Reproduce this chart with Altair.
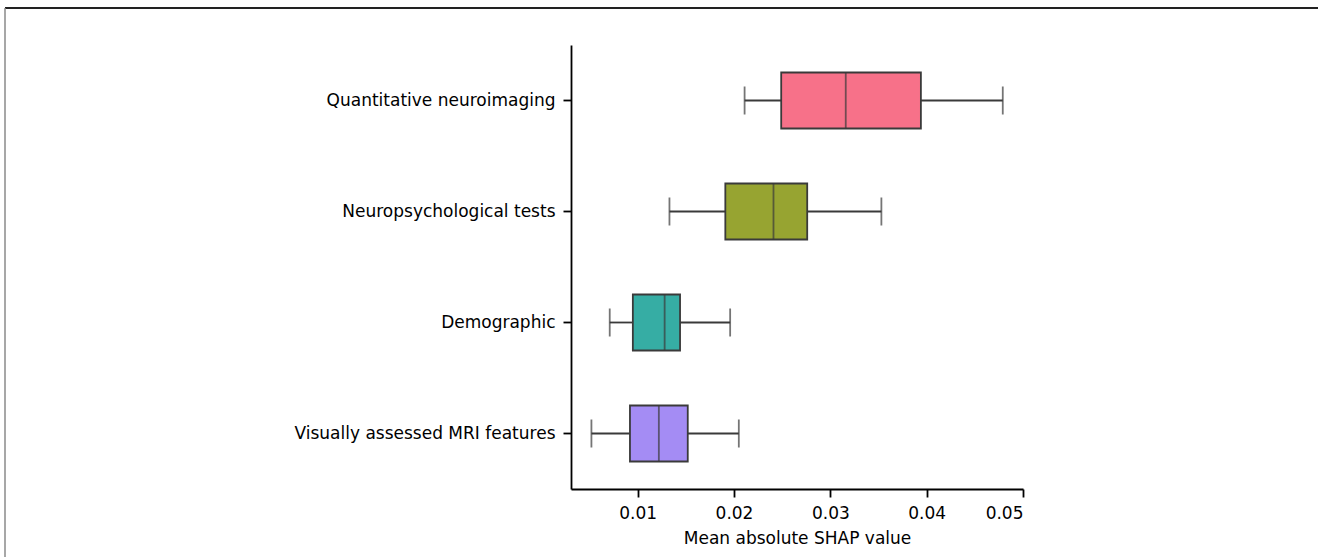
import altair as alt
import pandas as pd

categories = ["Quantitative neuroimaging", "Neuropsychological tests",
              "Demographic", "Visually assessed MRI features"]
lower = [0.0211, 0.0133, 0.0071, 0.0052]
q1 = [0.0249, 0.0191, 0.0095, 0.0092]
median = [0.0316, 0.0241, 0.0128, 0.0122]
q3 = [0.0394, 0.0276, 0.0144, 0.0152]
upper = [0.0479, 0.0353, 0.0196, 0.0205]
colors = ["#f77189", "#97a431", "#36ada4", "#a48cf4"]
x_ticks = [0.01, 0.02, 0.03, 0.04, 0.05]

df = pd.DataFrame({"cat": categories, "lower": lower, "q1": q1,
                   "median": median, "q3": q3, "upper": upper})

EDGE = "#3a3a3a"
FONT = "DejaVu Sans"
LW = 1.8

xscale = alt.Scale(domain=[0.00308, 0.05], nice=False, zero=False)
yscale = alt.Scale(paddingInner=0, paddingOuter=0)

x_axis = alt.Axis(values=x_ticks, format=".2f", title="Mean absolute SHAP value")
y_axis = alt.Axis(title=None)


def X(field):
    return alt.X(field, type="quantitative", scale=xscale, axis=x_axis)


Y = alt.Y("cat:N", sort=categories, scale=yscale, axis=y_axis)

base = alt.Chart(df)

whisk_lo = base.mark_rule(color=EDGE, strokeWidth=LW).encode(
    x=X("lower"), x2="q1:Q", y=Y)
whisk_hi = base.mark_rule(color=EDGE, strokeWidth=LW).encode(
    x=X("q3"), x2="upper:Q", y=Y)
box = base.mark_bar(size=56, stroke=EDGE, strokeWidth=LW).encode(
    x=X("q1"), x2="q3:Q", y=Y,
    color=alt.Color("cat:N", scale=alt.Scale(domain=categories, range=colors),
                    legend=None))
med = base.mark_tick(orient="vertical", size=56, thickness=LW, color=EDGE).encode(
    x=X("median"), y=Y)
cap_lo = base.mark_tick(orient="vertical", size=28, thickness=LW, color=EDGE).encode(
    x=X("lower"), y=Y)
cap_hi = base.mark_tick(orient="vertical", size=28, thickness=LW, color=EDGE).encode(
    x=X("upper"), y=Y)

frame_df = pd.DataFrame({"k": [0]})
frame_top = alt.Chart(frame_df).mark_rule(color="#222222", strokeWidth=2).encode(
    x=alt.value(-566), x2=alt.value(760), y=alt.value(-37))
frame_left = alt.Chart(frame_df).mark_rule(color="#8a8a8a", strokeWidth=1.5).encode(
    x=alt.value(-566), y=alt.value(-37), y2=alt.value(520))

chart = alt.layer(whisk_lo, whisk_hi, box, med, cap_lo, cap_hi,
                  frame_top, frame_left).properties(
    width=452, height=444,
    autosize=alt.AutoSizeParams(type="none"),
    padding={"left": 571, "top": 45, "right": 295, "bottom": 68},
    background="white",
).configure_view(stroke=None).configure_axis(
    grid=False, domainColor="black", domainWidth=1.8,
    tickColor="black", tickWidth=1.8, tickSize=8, labelPadding=8,
    labelFont=FONT, labelFontSize=17, labelColor="black", labelLimit=400,
    titleFont=FONT, titleFontSize=17, titleColor="black",
    titleFontWeight="normal", titlePadding=9,
)

chart.save("out.html", embed_options={"renderer": "svg", "actions": False})
